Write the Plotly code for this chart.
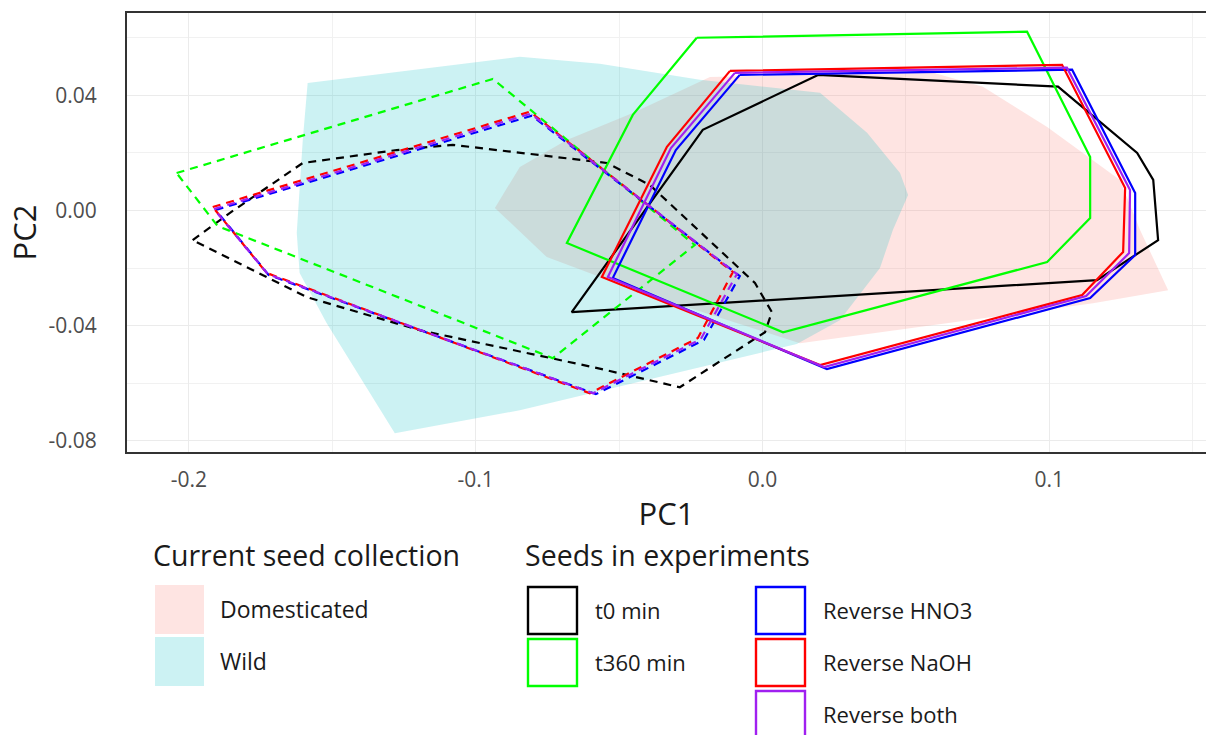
import plotly.graph_objects as go

# ---------------- data (PC1 / PC2 hull vertices) ----------------
collection_names = ["Domesticated", "Wild"]
collection_colors = ["rgba(248,118,109,0.2)", "rgba(0,191,196,0.2)"]

domesticated_pc1 = [-0.0933, -0.0846, -0.0682, -0.0452, -0.0183, 0.0584, 0.0769, 0.0993,
                    0.1247, 0.1317, 0.1415, 0.1153, 0.0131, -0.0417, -0.0752]
domesticated_pc2 = [0.0009, 0.0151, 0.0245, 0.0339, 0.0464, 0.0482, 0.0430, 0.0290,
                    0.0106, -0.0068, -0.0277, -0.0322, -0.0461, -0.0287, -0.0162]

wild_pc1 = [-0.1586, -0.0846, -0.0567, -0.0218, 0.0201, 0.0365, 0.0480, 0.0508, 0.0455,
            0.0410, 0.0270, 0.0120, -0.0846, -0.1282, -0.1520, -0.1614, -0.1624, -0.1603]
wild_pc2 = [0.0443, 0.0534, 0.0510, 0.0454, 0.0409, 0.0270, 0.0130, 0.0054, -0.0068,
            -0.0200, -0.0381, -0.0464, -0.0694, -0.0774, -0.0391, -0.0217, -0.0078, 0.0245]

experiment_names = ["t0 min", "t360 min", "Reverse HNO3", "Reverse NaOH", "Reverse both"]
experiment_colors = ["#000000", "#00FF00", "#0000FF", "#FF0000", "#A020F0"]

t0_solid_pc1 = [0.0194, 0.1031, 0.1307, 0.1363, 0.1380, 0.1167, -0.0665, -0.0208]
t0_solid_pc2 = [0.0471, 0.0430, 0.0200, 0.0106, -0.0103, -0.0242, -0.0353, 0.0280]
t0_dashed_pc1 = [-0.1987, -0.1858, -0.1603, -0.1275, -0.1080, -0.0846, -0.0543, -0.0393,
                 -0.0026, 0.0033, 0.0009, -0.0288, -0.0591, -0.0916, -0.1195, -0.1589]
t0_dashed_pc2 = [-0.0103, -0.0009, 0.0165, 0.0210, 0.0228, 0.0200, 0.0165, 0.0089,
                 -0.0252, -0.0353, -0.0423, -0.0614, -0.0544, -0.0475, -0.0416, -0.0301]

t360_solid_pc1 = [-0.0229, 0.0923, 0.1143, 0.1143, 0.0993, 0.0072, -0.0682, -0.0452]
t360_solid_pc2 = [0.0600, 0.0621, 0.0186, -0.0026, -0.0179, -0.0423, -0.0113, 0.0332]
t360_dashed_pc1 = [-0.2043, -0.0940, -0.0236, -0.0731, -0.1900]
t360_dashed_pc2 = [0.0130, 0.0457, -0.0120, -0.0513, -0.0054]

hno3_solid_pc1 = [-0.0079, 0.1080, 0.1300, 0.1300, 0.1143, 0.0225, -0.0522, -0.0302]
hno3_solid_pc2 = [0.0471, 0.0489, 0.0061, -0.0155, -0.0304, -0.0551, -0.0235, 0.0210]
hno3_dashed_pc1 = [-0.1907, -0.0804, -0.0079, -0.0204, -0.0581, -0.1722]
hno3_dashed_pc2 = [0.0002, 0.0329, -0.0228, -0.0450, -0.0638, -0.0224]

naoh_solid_pc1 = [-0.0113, 0.1045, 0.1265, 0.1258, 0.1115, 0.0201, -0.0560, -0.0333]
naoh_solid_pc2 = [0.0485, 0.0506, 0.0078, -0.0144, -0.0294, -0.0537, -0.0231, 0.0221]
naoh_dashed_pc1 = [-0.1917, -0.0811, -0.0103, -0.0225, -0.0602, -0.1729]
naoh_dashed_pc2 = [0.0012, 0.0343, -0.0214, -0.0443, -0.0635, -0.0217]

both_solid_pc1 = [-0.0096, 0.1062, 0.1282, 0.1279, 0.1129, 0.0215, -0.0539, -0.0319]
both_solid_pc2 = [0.0478, 0.0496, 0.0071, -0.0148, -0.0297, -0.0544, -0.0231, 0.0217]
both_dashed_pc1 = [-0.1913, -0.0808, -0.0089, -0.0215, -0.0591, -0.1725]
both_dashed_pc2 = [0.0005, 0.0336, -0.0221, -0.0447, -0.0635, -0.0221]

x_ticks = [-0.2, -0.1, 0.0, 0.1]
x_tick_labels = ["-0.2", "-0.1", "0.0", "0.1"]
y_ticks = [0.04, 0.0, -0.04, -0.08]
y_tick_labels = ["0.04", "0.00", "-0.04", "-0.08"]

# ---------------- figure ----------------
W, H = 1206, 735
ML, MR, MT, MB = 127, 0, 13, 283
FONT = "Open Sans"


def closed(a):
    return list(a) + [a[0]]


fig = go.Figure()

for name, col, px, py in zip(collection_names, collection_colors,
                             [domesticated_pc1, wild_pc1], [domesticated_pc2, wild_pc2]):
    fig.add_trace(go.Scatter(x=closed(px), y=closed(py), mode="lines", fill="toself",
                             fillcolor=col, line=dict(width=0), name=name,
                             showlegend=False, hoverinfo="skip"))

exp_solid = [(t0_solid_pc1, t0_solid_pc2), (t360_solid_pc1, t360_solid_pc2),
             (hno3_solid_pc1, hno3_solid_pc2), (naoh_solid_pc1, naoh_solid_pc2),
             (both_solid_pc1, both_solid_pc2)]
exp_dashed = [(t0_dashed_pc1, t0_dashed_pc2), (t360_dashed_pc1, t360_dashed_pc2),
              (hno3_dashed_pc1, hno3_dashed_pc2), (naoh_dashed_pc1, naoh_dashed_pc2),
              (both_dashed_pc1, both_dashed_pc2)]

for name, col, (sx, sy), (dx, dy) in zip(experiment_names, experiment_colors, exp_solid, exp_dashed):
    fig.add_trace(go.Scatter(x=closed(sx), y=closed(sy), mode="lines",
                             line=dict(color=col, width=2.2), name=name, showlegend=False))
    fig.add_trace(go.Scatter(x=closed(dx), y=closed(dy), mode="lines",
                             line=dict(color=col, width=2.2, dash="8px,6px"), name=name,
                             showlegend=False))

# ---------------- legends drawn in paper space ----------------
PW = W - ML - MR
PH = H - MT - MB


def px2paper(x, y):
    return (x - ML) / PW, (H - MB - y) / PH


shapes = []
annotations = []


def add_text(txt, x, y, size, color="#1a1a1a"):
    ax, ay = px2paper(x, y)
    annotations.append(dict(text=txt, x=ax, y=ay, xref="paper", yref="paper",
                            xanchor="left", yanchor="middle", showarrow=False,
                            borderpad=0, font=dict(family=FONT, size=size, color=color)))


def add_key(x0, y0, x1, y1, fill=None, line=None):
    a0, b0 = px2paper(x0, y1)
    a1, b1 = px2paper(x1, y0)
    shapes.append(dict(type="rect", xref="paper", yref="paper", x0=a0, y0=b0, x1=a1, y1=b1,
                       fillcolor=fill if fill else "rgba(0,0,0,0)",
                       line=dict(color=line if line else "rgba(0,0,0,0)", width=2.4 if line else 0)))


# collection legend
add_text("Current seed collection", 152, 555, 28.5)
for i, (name, col) in enumerate(zip(collection_names, collection_colors)):
    y0 = 585 + i * 52
    add_key(155, y0, 204, y0 + 49, fill=col)
    add_text(name, 219, y0 + 24, 23)

# experiment legend
add_text("Seeds in experiments", 524, 555, 28.5)
col_x = [528, 756]
for i, (name, col) in enumerate(zip(experiment_names, experiment_colors)):
    c = 0 if i < 2 else 1
    r = i if i < 2 else i - 2
    x0 = col_x[c]
    y0 = 587 + r * 52
    add_key(x0, y0, x0 + 49, y0 + 47, line=col)
    add_text(name, x0 + 66, y0 + 23, 22)

fig.update_layout(
    width=W, height=H,
    margin=dict(l=ML, r=MR, t=MT, b=MB, autoexpand=False),
    paper_bgcolor="white", plot_bgcolor="white",
    showlegend=False,
    shapes=shapes, annotations=annotations,
    font=dict(family=FONT),
    xaxis=dict(range=[-0.2216, 0.1547], tickvals=x_ticks, ticktext=x_tick_labels,
               showgrid=True, gridcolor="#EBEBEB", gridwidth=1.2, zeroline=False,
               minor=dict(dtick=0.05, tick0=0.05, showgrid=True, gridcolor="#F1F1F1", gridwidth=1),
               showline=True, mirror=True, linecolor="#333333", linewidth=2,
               ticks="", ticklabelstandoff=8, automargin=False,
               tickfont=dict(family=FONT, size=21, color="#4D4D4D"),
               title=dict(text="PC1", font=dict(family=FONT, size=31, color="#1a1a1a"), standoff=11)),
    yaxis=dict(range=[-0.0839, 0.0686], tickvals=y_ticks, ticktext=y_tick_labels,
               showgrid=True, gridcolor="#EBEBEB", gridwidth=1.2, zeroline=False,
               minor=dict(dtick=0.02, tick0=0.02, showgrid=True, gridcolor="#F1F1F1", gridwidth=1),
               showline=True, mirror=False, linecolor="#333333", linewidth=2,
               ticks="", ticklabelstandoff=24, automargin=False,
               tickfont=dict(family=FONT, size=21, color="#4D4D4D"),
               title=dict(text="PC2", font=dict(family=FONT, size=31, color="#1a1a1a"), standoff=3)),
)

fig.write_html("out.html", config={"displayModeBar": False},
               post_script="document.body.style.margin='0';document.body.style.overflow='hidden';")
